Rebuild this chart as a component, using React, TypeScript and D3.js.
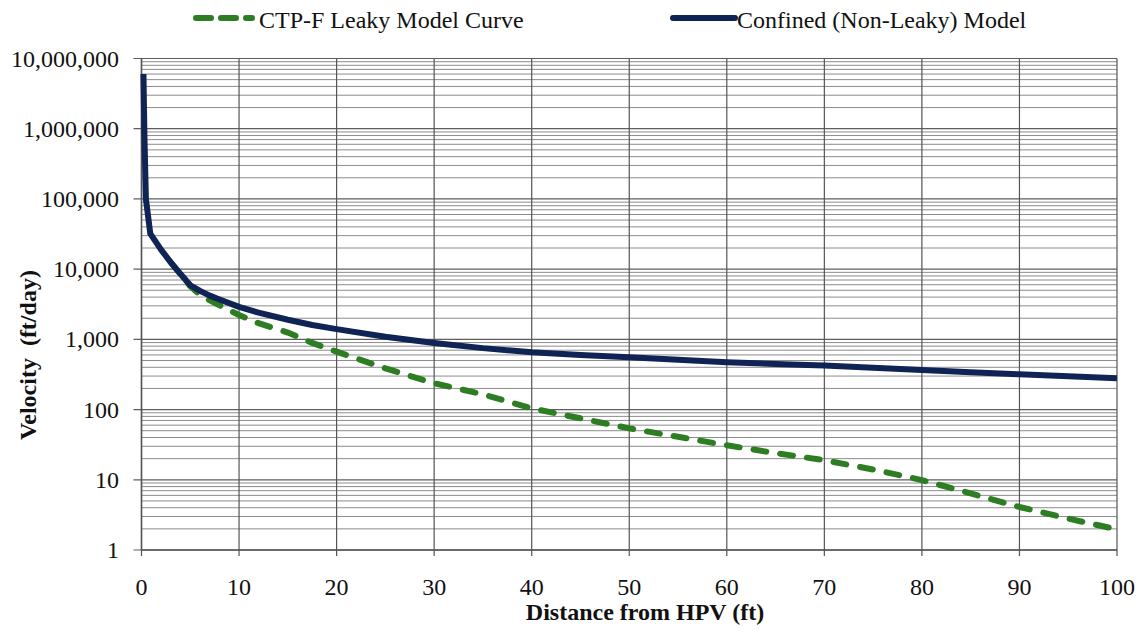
import React from "react";
import * as d3 from "d3";

const distance = [0.2, 0.3, 0.45, 0.9, 2, 3, 4, 5, 6, 7, 8, 10, 12, 15, 17.5, 20, 25, 30, 35, 40, 45, 50, 55, 60, 65, 70, 75, 80, 85, 90, 95, 100];
const confined = [6000000, 800000, 100000, 32000, 19000, 12500, 8500, 5900, 4900, 4200, 3700, 2900, 2400, 1900, 1600, 1400, 1090, 890, 750, 655, 600, 556, 512, 472, 445, 425, 395, 366, 340, 318, 298, 279];
const leaky = [6000000, 800000, 100000, 32000, 19000, 12500, 8500, 5700, 4300, 3600, 3050, 2220, 1700, 1250, 890, 669, 387, 237, 165, 104, 75, 54, 41, 31, 24, 19, 14, 9.9, 6.4, 4.1, 2.8, 1.97];
const xTicks = [0, 10, 20, 30, 40, 50, 60, 70, 80, 90, 100];
const yTicks = [1, 10, 100, 1000, 10000, 100000, 1000000, 10000000];
const seriesNames = ["CTP-F Leaky Model Curve", "Confined (Non-Leaky) Model"];
const xTitle = "Distance from HPV (ft)";
const yTitle = "Velocity  (ft/day)";

const W = 1142, H = 632;
const FONT = "'Liberation Serif', 'Times New Roman', serif";
const GREEN = "#2d7d22";
const NAVY = "#0f2354";

export default function App() {
  const x = d3.scaleLinear().domain([0, 100]).range([141.5, 1117]);
  const y = d3.scaleLog().domain([1, 1e7]).range([550, 58.5]);
  const minor: number[] = [];
  for (let p = 0; p < 7; p++) for (let k = 2; k <= 9; k++) minor.push(k * Math.pow(10, p));
  const fmt = d3.format(",");
  const line = d3.line<number>().x((_, i) => x(distance[i])).y((d) => y(d)).curve(d3.curveLinear);
  const leakyLine = d3.line<number>().defined((_, i) => distance[i] >= 3).x((_, i) => x(distance[i])).y((d) => y(d));
  const [x0, x1] = x.range();
  const [yb, yt] = y.range();
  return (
    <svg width={W} height={H} style={{ position: "absolute", left: 0, top: 0, background: "#fff" }} fontFamily={FONT}>
      {minor.map((v) => (
        <line key={"m" + v} x1={x0} x2={x1} y1={y(v)} y2={y(v)} stroke="#8c8c8c" strokeWidth={1} />
      ))}
      {yTicks.map((v) => (
        <line key={"M" + v} x1={x0 - 8} x2={x1} y1={y(v)} y2={y(v)} stroke="#5e5e5e" strokeWidth={1.2} />
      ))}
      {xTicks.map((v) => (
        <line key={"v" + v} x1={x(v)} x2={x(v)} y1={yt} y2={yb + 6} stroke="#555" strokeWidth={1.2} />
      ))}
      <line x1={x0} x2={x0} y1={yt} y2={yb} stroke="#555" strokeWidth={1.5} />
      <line x1={x0} x2={x1} y1={yb} y2={yb} stroke="#555" strokeWidth={1.5} />
      {yTicks.map((v) => (
        <text key={"yl" + v} x={119} y={y(v) + 8} textAnchor="end" fontSize={24} fill="#111">{fmt(v)}</text>
      ))}
      {xTicks.map((v) => (
        <text key={"xl" + v} x={x(v)} y={595} textAnchor="middle" fontSize={24} fill="#111">{v}</text>
      ))}
      <path d={leakyLine(leaky) || ""} fill="none" stroke={GREEN} strokeWidth={6} strokeDasharray="13 14" strokeLinecap="round" strokeLinejoin="round" />
      <path d={line(confined) || ""} fill="none" stroke={NAVY} strokeWidth={6} strokeLinejoin="round" />
      <text x={645} y={620} textAnchor="middle" fontSize={24} fontWeight="bold" fill="#111">{xTitle}</text>
      <text transform="translate(36,355) rotate(-90)" textAnchor="middle" fontSize={24} fontWeight="bold" fill="#111" style={{ whiteSpace: "pre" }}>{yTitle}</text>
      <line x1={196} x2={252} y1={18} y2={18} stroke={GREEN} strokeWidth={6} strokeDasharray="15 10" strokeLinecap="round" />
      <text x={259} y={28} fontSize={24} fill="#111">{seriesNames[0]}</text>
      <line x1={673} x2={735} y1={18} y2={18} stroke={NAVY} strokeWidth={6} strokeLinecap="round" />
      <text x={737} y={28} fontSize={24} fill="#111">{seriesNames[1]}</text>
    </svg>
  );
}
